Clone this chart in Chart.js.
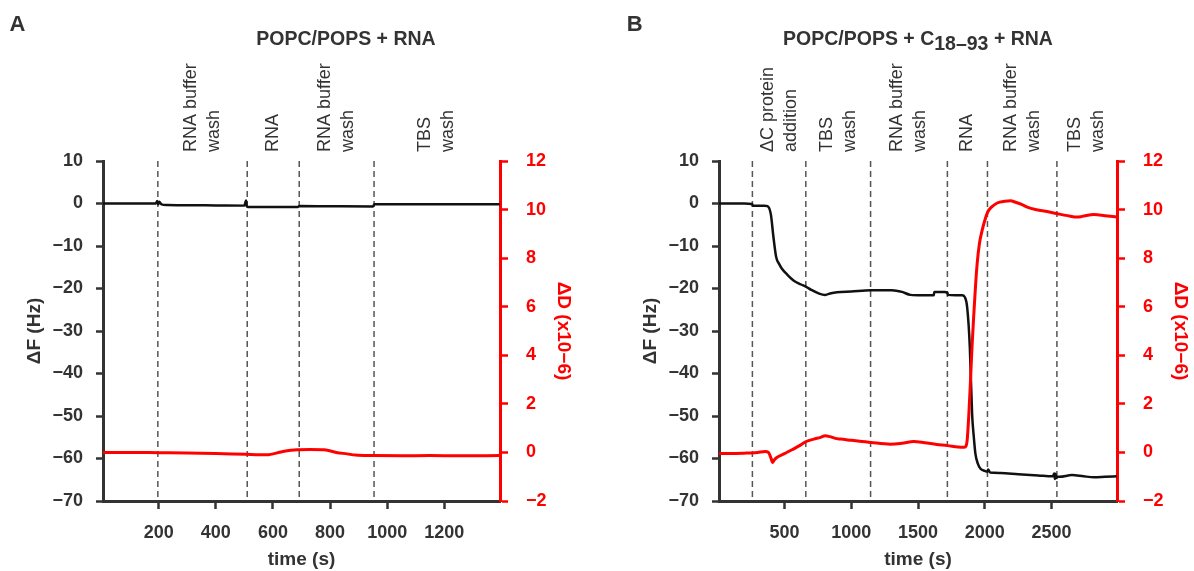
<!DOCTYPE html>
<html><head><meta charset="utf-8">
<script src="https://cdn.jsdelivr.net/npm/chart.js@4.4.1/dist/chart.umd.min.js"></script>
<style>
html,body{margin:0;padding:0;background:#fff;}
#wrap{position:relative;width:1194px;height:571px;overflow:hidden;background:#fff;}
.panel{position:absolute;top:0;height:571px;}
</style></head><body>
<div id="wrap">
<div class="panel" style="left:0;width:600px"><canvas id="cA" width="600" height="571"></canvas></div>
<div class="panel" style="left:600px;width:594px"><canvas id="cB" width="594" height="571"></canvas></div>
</div>
<script>
// ---------- Panel A data ----------
const timeA_F = [5, 100, 190, 195, 198, 202, 210, 230, 300, 400, 500, 506, 508, 512, 520, 600, 688, 692, 800, 950, 955, 1100, 1250, 1395];
const dF_A    = [0, 0, 0, 0.6, -0.2, 0.4, -0.2, -0.35, -0.4, -0.45, -0.5, 0.7, -0.6, -0.8, -0.8, -0.85, -0.8, -0.6, -0.65, -0.7, -0.2, -0.2, -0.15, -0.2];
const timeA_D = [5, 100, 200, 300, 400, 505, 578, 632, 683, 730, 780, 822, 860, 889, 950, 1050, 1150, 1250, 1395];
const dD_A    = [0.0, 0.0, -0.01, -0.02, -0.04, -0.08, -0.1, 0.03, 0.11, 0.12, 0.11, 0.0, -0.06, -0.11, -0.13, -0.14, -0.13, -0.14, -0.13];
const eventsA = [197, 510, 692, 954];
const eventLabelsA = [["RNA buffer", "wash"], ["RNA"], ["RNA buffer", "wash"], ["TBS", "wash"]];
const xTicksA = [200, 400, 600, 800, 1000, 1200];

// ---------- Panel B data ----------
const timeB_F = [10, 100, 200, 258, 262, 270, 350, 373, 398, 418, 438, 460, 480, 520, 568, 620, 663, 700, 760, 805, 850, 893, 1000, 1148, 1305, 1380, 1443, 1530, 1618, 1622, 1660, 1697, 1720, 1724, 1780, 1830, 1850, 1868, 1888, 1905, 1918, 1930, 1948, 1968, 2000, 2020, 2025, 2040, 2118, 2250, 2400, 2510, 2520, 2525, 2530, 2535, 2545, 2560, 2653, 2740, 2820, 2900, 2990];
const dF_B    = [0, 0, 0, -0.1, -0.5, -0.5, -0.5, -0.6, -2.5, -8, -12.6, -14.2, -15.3, -16.7, -18.1, -19.0, -19.6, -20.3, -21.2, -21.5, -21.1, -20.9, -20.7, -20.4, -20.4, -20.8, -21.5, -21.6, -21.6, -20.8, -20.8, -20.8, -21.0, -21.5, -21.6, -21.6, -22, -24.4, -33.8, -49.5, -55, -58.9, -61.2, -62.4, -62.9, -63.1, -62.6, -63.3, -63.4, -63.7, -64, -64.2, -63.5, -64.8, -63.6, -64.6, -64.3, -64.3, -63.9, -64.2, -64.4, -64.3, -64.2];
const timeB_D = [10, 100, 200, 258, 300, 355, 380, 393, 403, 410, 425, 443, 500, 560, 620, 663, 720, 770, 805, 840, 880, 918, 1000, 1148, 1293, 1380, 1468, 1550, 1640, 1722, 1800, 1843, 1858, 1868, 1880, 1893, 1905, 1918, 1930, 1943, 1960, 1980, 2000, 2022, 2050, 2093, 2150, 2193, 2230, 2280, 2318, 2380, 2443, 2543, 2620, 2693, 2730, 2818, 2900, 2990];
const dD_B    = [-0.04, -0.04, -0.03, -0.02, 0.0, 0.04, 0.0, -0.14, -0.3, -0.41, -0.3, -0.21, -0.05, 0.12, 0.3, 0.45, 0.55, 0.62, 0.69, 0.65, 0.58, 0.55, 0.5, 0.41, 0.34, 0.38, 0.45, 0.4, 0.33, 0.28, 0.22, 0.21, 0.25, 0.5, 1.5, 2.95, 4.4, 5.7, 6.8, 7.77, 8.6, 9.14, 9.55, 9.9, 10.1, 10.27, 10.34, 10.36, 10.3, 10.2, 10.1, 10.0, 9.94, 9.83, 9.75, 9.69, 9.72, 9.8, 9.75, 9.69];
const eventsB = [260, 660, 1145, 1720, 2020, 2540];
const eventLabelsB = [["\u0394C protein", "addition"], ["TBS", "wash"], ["RNA buffer", "wash"], ["RNA"], ["RNA buffer", "wash"], ["TBS", "wash"]];
const xTicksB = [500, 1000, 1500, 2000, 2500];

// ---------- shared axis ticks ----------
const yTicksF = [-70, -60, -50, -40, -30, -20, -10, 0, 10];
const yTicksD = [-2, 0, 2, 4, 6, 8, 10, 12];

const FONT = '"Liberation Sans", Arial, sans-serif';
const DARK = '#333333';
const RED = '#ff0000';

function fmt(v){ return v < 0 ? '\u2212' + Math.abs(v) : String(v); }

function decoPlugin(p){
  return {
    id: 'deco' + p.letter,
    beforeDatasetsDraw(chart){
      const ctx = chart.ctx, ca = chart.chartArea, xs = chart.scales.x;
      ctx.save();
      ctx.strokeStyle = '#555';
      ctx.lineWidth = 1.5;
      ctx.setLineDash([6, 4]);
      p.events.forEach(t => {
        const px = xs.getPixelForValue(t);
        ctx.beginPath(); ctx.moveTo(px, ca.top); ctx.lineTo(px, ca.bottom); ctx.stroke();
      });
      ctx.restore();
    },
    afterDraw(chart){
      const ctx = chart.ctx, ca = chart.chartArea, xs = chart.scales.x;
      ctx.save();
      // event labels
      ctx.fillStyle = DARK;
      ctx.font = '18px ' + FONT;
      ctx.textAlign = 'left';
      ctx.textBaseline = 'middle';
      p.events.forEach((t, i) => {
        const t1 = i + 1 < p.events.length ? p.events[i + 1] : xs.max;
        const cx = (xs.getPixelForValue(t) + xs.getPixelForValue(t1)) / 2;
        const lines = p.labels[i];
        lines.forEach((ln, j) => {
          const v = (j - (lines.length - 1) / 2) * 23;
          ctx.save();
          ctx.translate(cx, 152);
          ctx.rotate(-Math.PI / 2);
          ctx.fillText(ln, 0, v);
          ctx.restore();
        });
      });
      // panel letter
      ctx.font = 'bold 22px ' + FONT;
      ctx.textBaseline = 'alphabetic';
      ctx.textAlign = 'left';
      ctx.fillStyle = DARK;
      ctx.fillText(p.letter, p.letterX, 31);
      // title
      ctx.font = 'bold 19.5px ' + FONT;
      const parts = p.title;
      let total = 0;
      parts.forEach(s => total += ctx.measureText(s.t).width);
      let x = (p.titleCenter != null ? p.titleCenter : (ca.left + ca.right) / 2) - total / 2;
      parts.forEach(s => {
        ctx.fillText(s.t, x, 45 + (s.sub ? 5 : 0));
        x += ctx.measureText(s.t).width;
      });
      // x title
      ctx.font = 'bold 19px ' + FONT;
      ctx.textAlign = 'center';
      ctx.fillText('time (s)', (ca.left + ca.right) / 2, 565);
      // left y title
      const midY = (ca.top + ca.bottom) / 2;
      ctx.textBaseline = 'middle';
      ctx.save();
      ctx.translate(ca.left - 68, midY);
      ctx.rotate(-Math.PI / 2);
      ctx.fillText('\u0394F (Hz)', 0, 0);
      ctx.restore();
      // right y title
      ctx.fillStyle = RED;
      ctx.save();
      ctx.translate(ca.right + 63.5, midY);
      ctx.rotate(Math.PI / 2);
      ctx.fillText('\u0394D (x10\u22126)', 0, 0);
      ctx.restore();
      ctx.restore();
    }
  };
}

function makeChart(id, p){
  const tickFont = {family: FONT, size: 18, weight: 'bold'};
  return new Chart(document.getElementById(id), {
    type: 'line',
    data: {
      datasets: [
        {
          data: p.tD.map((t, i) => ({x: t, y: p.vD[i]})),
          yAxisID: 'y1', borderColor: RED, borderWidth: 3, pointRadius: 0,
          cubicInterpolationMode: 'monotone', fill: false
        },
        {
          data: p.tF.map((t, i) => ({x: t, y: p.vF[i]})),
          yAxisID: 'y', borderColor: '#111', borderWidth: 2.5, pointRadius: 0,
          cubicInterpolationMode: 'monotone', fill: false
        }
      ]
    },
    options: {
      responsive: false,
      animation: false,
      devicePixelRatio: 1,
      layout: {padding: {top: 161, left: 0, right: 0, bottom: 0}},
      plugins: {legend: {display: false}, tooltip: {enabled: false}, title: {display: false}},
      scales: {
        x: {
          type: 'linear', min: p.xmin, max: p.xmax,
          afterBuildTicks: s => { s.ticks = p.xTicks.map(v => ({value: v})); },
          afterFit: s => { s.height = 70; },
          grid: {drawOnChartArea: false, drawTicks: true, tickLength: 8, tickWidth: 2.5, tickColor: DARK},
          border: {display: true, color: DARK, width: 3},
          ticks: {font: tickFont, color: DARK, padding: 13, maxRotation: 0, autoSkip: false, callback: v => fmt(v)}
        },
        y: {
          type: 'linear', position: 'left', min: -70, max: 10,
          afterBuildTicks: s => { s.ticks = yTicksF.map(v => ({value: v})); },
          afterFit: s => { s.width = p.leftW; },
          grid: {drawOnChartArea: false, drawTicks: true, tickLength: 7, tickWidth: 2.5, tickColor: DARK},
          border: {display: true, color: DARK, width: 3},
          ticks: {font: tickFont, color: DARK, padding: 13, callback: v => fmt(v)}
        },
        y1: {
          type: 'linear', position: 'right', min: -2, max: 12,
          afterBuildTicks: s => { s.ticks = yTicksD.map(v => ({value: v})); },
          afterFit: s => { s.width = p.rightW; },
          grid: {drawOnChartArea: false, drawTicks: true, tickLength: 8, tickWidth: 2.5, tickColor: RED},
          border: {display: true, color: RED, width: 3},
          ticks: {font: tickFont, color: RED, padding: 18, callback: v => fmt(v)}
        }
      }
    },
    plugins: [decoPlugin(p)]
  });
}

makeChart('cA', {
  letter: 'A', letterX: 9.5,
  title: [{t: 'POPC/POPS + RNA'}], titleCenter: 346,
  tF: timeA_F, vF: dF_A, tD: timeA_D, vD: dD_A,
  events: eventsA, labels: eventLabelsA, xTicks: xTicksA,
  xmin: 5, xmax: 1395, leftW: 103, rightW: 100
});
makeChart('cB', {
  letter: 'B', letterX: 26.7,
  title: [{t: 'POPC/POPS + C'}, {t: '18\u201393', sub: true}, {t: ' + RNA'}], titleCenter: null,
  tF: timeB_F, vF: dF_B, tD: timeB_D, vD: dD_B,
  events: eventsB, labels: eventLabelsB, xTicks: xTicksB,
  xmin: 10, xmax: 2990, leftW: 119, rightW: 77
});
</script>
</body></html>
